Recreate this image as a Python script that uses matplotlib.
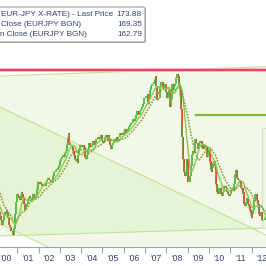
import matplotlib
matplotlib.use("Agg")
import matplotlib.pyplot as plt
from matplotlib.patches import FancyBboxPatch, Rectangle
from matplotlib.ticker import FixedLocator, FixedFormatter
import numpy as np
import pandas as pd

# semi-monthly closes (1st / 15th of each month), EUR-JPY
c1999 = [131, 127, 124, 123, 128, 129, 127, 128, 127, 125, 122, 121, 122, 124, 122, 118, 114, 112, 113, 111, 109, 106, 104, 103]
c2000 = [103, 101, 104, 103, 101, 99, 97, 95, 97, 99, 101, 100, 102, 101, 98, 95, 94, 92, 92, 90, 93, 95, 100, 106]
c2001 = [110, 109, 108, 107, 109, 111, 110, 108, 105, 102, 104, 105, 107, 108, 109, 108, 108, 107, 110, 109, 108, 109, 112, 116]
c2002 = [116, 115, 116, 115, 114, 115, 115, 114, 114, 116, 117, 118, 117, 117, 116, 116, 119, 120, 121, 121, 122, 122, 123, 124]
c2003 = [126, 127, 127, 128, 129, 128, 130, 131, 134, 137, 140, 135, 134, 134, 133, 131, 129, 127, 126, 127, 125, 129, 132, 134]
c2004 = [134, 133, 134, 133, 131, 128, 127, 129, 132, 135, 133, 133, 134, 136, 135, 134, 135, 137, 137, 138, 137, 137, 139, 139]
c2005 = [136, 135, 136, 138, 139, 138, 136, 139, 137, 134, 132, 134, 135, 136, 137, 137, 138, 136, 138, 138, 140, 139, 140, 139]
c2006 = [140, 142, 140, 142, 141, 142, 143, 144, 145, 145, 145, 147, 146, 147, 149, 151, 149, 149, 150, 151, 152, 153, 154, 157]
c2007 = [157, 158, 158, 159, 154, 157, 161, 163, 164, 164, 165, 166, 168, 163, 156, 157, 157, 163, 165, 165, 162, 162, 164, 164]
c2008 = [160, 157, 160, 161, 153, 156, 160, 164, 161, 163, 164, 167, 169, 168, 163, 162, 155, 152, 138, 127, 121, 119, 120, 127]
c2009 = [120, 116, 116, 119, 124, 129, 131, 130, 134, 137, 135, 135, 132, 135, 136, 136, 133, 132, 134, 134, 133, 133, 128, 130]
c2010 = [132, 126, 122, 121, 123, 125, 126, 124, 115, 111, 110, 111, 113, 113, 110, 109, 111, 114, 114, 113, 113, 111, 110, 109]
c2011 = [110, 112, 113, 113, 112, 115, 120, 122, 118, 117, 117, 116, 113, 113, 110, 111, 105, 104, 106, 108, 105, 104, 102, 101]
c2012 = [98, 100, 102, 107, 110, 110, 107, 105, 102, 100, 99, 101, 97, 97, 97, 98, 100]

closes = c1999 + c2000 + c2001 + c2002 + c2003 + c2004 + c2005 + c2006 + c2007 + c2008 + c2009 + c2010 + c2011 + c2012

year_labels = ["'00", "'01", "'02", "'03", "'04", "'05", "'06", "'07", "'08", "'09", "'10", "'11", "'12"]
label_years = [2000, 2001, 2002, 2003, 2004, 2005, 2006, 2007, 2008, 2009, 2010, 2011, 2012]

# legend text as visible in the (cropped) reference
legend_names = ["EUR-JPY X-RATE) - Last Price",
                "Close (EURJPY BGN)",
                "n Close (EURJPY BGN)"]
legend_values = ["173.88", "169.35", "162.79"]

resistance = 170.7
support_mid = 148.8
support_mid_start = 2009.4
# channel endpoints (start, end) at the view edges
asc_upper = (168.0, 172.6)
asc_lower = (89.4, 93.3)
desc_upper = (152.8, 89.9)
desc_lower = (95.3, 32.4)

dates = pd.date_range("1999-01-01", periods=len(closes), freq="SMS")
xs = np.array([d.year + (d.dayofyear - 1) / 365.25 for d in dates])
s = pd.Series(closes, dtype=float)
ma100 = s.rolling(10).mean()
ma200 = s.rolling(19).mean()

W = 266
fig = plt.figure(figsize=(2.66, 2.66), dpi=100)
ax = fig.add_axes([0, 19 / W, 1, 247 / W])
x0, x1 = 2000.19, 2012.68
ax.set_xlim(x0, x1)
ax.set_ylim(83.97, 205.34)
for sp in ["top", "left", "right"]:
    ax.spines[sp].set_visible(False)
ax.spines["bottom"].set_color("#9CA4AC")
ax.spines["bottom"].set_linewidth(0.8)

ex = np.array([x0, x1])
fillc = "#C4E296"
ax.fill_between(ex, asc_lower, asc_upper, color=fillc, alpha=0.22, lw=0, zorder=1)
ax.fill_between(ex, desc_lower, desc_upper, color=fillc, alpha=0.22, lw=0, zorder=1)
linec = "#C2E29A"
for ln in (asc_upper, asc_lower, desc_upper, desc_lower):
    ax.plot(ex, ln, color=linec, lw=0.8, zorder=2)

ax.add_patch(Rectangle((2012.49, 93.3), 1.0, 49.2, fc="#EEF6E2", ec="#D2E4BE", lw=0.8, zorder=2))

ax.axhline(resistance, color="#F8A8B8", lw=2.6, zorder=3)
ax.axhline(resistance, color="#EE3A5A", lw=1.3, zorder=3)
ax.plot([support_mid_start, x1], [support_mid, support_mid], color="#78C03A", lw=1.6, zorder=3)

# price bars (previous close -> close)
prev = np.array(closes[:-1], dtype=float)
cur = np.array(closes[1:], dtype=float)
bx = xs[1:]
up = cur >= prev
ax.vlines(bx[up], prev[up], cur[up], color="#4CBB3A", lw=1.3, zorder=4)
ax.vlines(bx[~up], prev[~up], cur[~up], color="#E5322B", lw=1.3, zorder=4)
ax.plot(xs, closes, color="#5CC040", lw=0.5, zorder=4)

ax.plot(xs, ma100, color="#8CC84E", lw=1.0, zorder=5)
ax.plot(xs, ma200, color="#8A9C44", lw=1.2, ls=(0, (1, 0.8)), zorder=5)

ax.xaxis.set_major_locator(FixedLocator(list(range(2001, 2013))))
ax.xaxis.set_major_formatter(FixedFormatter([""] * 12))
ax.xaxis.set_minor_locator(FixedLocator([y + 0.5 for y in label_years]))
ax.xaxis.set_minor_formatter(FixedFormatter(year_labels))
ax.tick_params(axis="x", which="major", length=4.5, width=0.8, color="#9CA4AC", direction="out")
ax.tick_params(axis="x", which="minor", length=0, pad=5, labelsize=6.2, labelcolor="#34406A")
for t in ax.xaxis.get_minorticklabels():
    t.set_fontfamily("Liberation Sans")
ax.set_yticks([])

# legend box
def fx(px):
    return px / W

def fy(py):
    return 1 - py / W

shadow = FancyBboxPatch((fx(-9), fy(43)), fx(155), 35 / W, boxstyle="round,pad=0,rounding_size=0.008",
                        transform=fig.transFigure, fc="#B8B8B8", ec="none", zorder=9)
box = FancyBboxPatch((fx(-10), fy(42)), fx(155), 35 / W, boxstyle="round,pad=0,rounding_size=0.008",
                     transform=fig.transFigure, fc="white", ec="#9A9A9A", lw=0.8, zorder=10)
fig.patches.extend([shadow, box])
name_starts = [1, 1, 0]
rows = [15, 25, 35]
for name, val, xs0, yr in zip(legend_names, legend_values, name_starts, rows):
    fig.text(fx(xs0), fy(yr), name, ha="left", va="center", fontsize=5.9, color="#34406A",
             family="Liberation Sans", zorder=11)
    fig.text(fx(142), fy(yr), val, ha="right", va="center", fontsize=5.9, color="#34406A",
             family="Liberation Sans", zorder=11)

fig.savefig("out.png", dpi=100)
